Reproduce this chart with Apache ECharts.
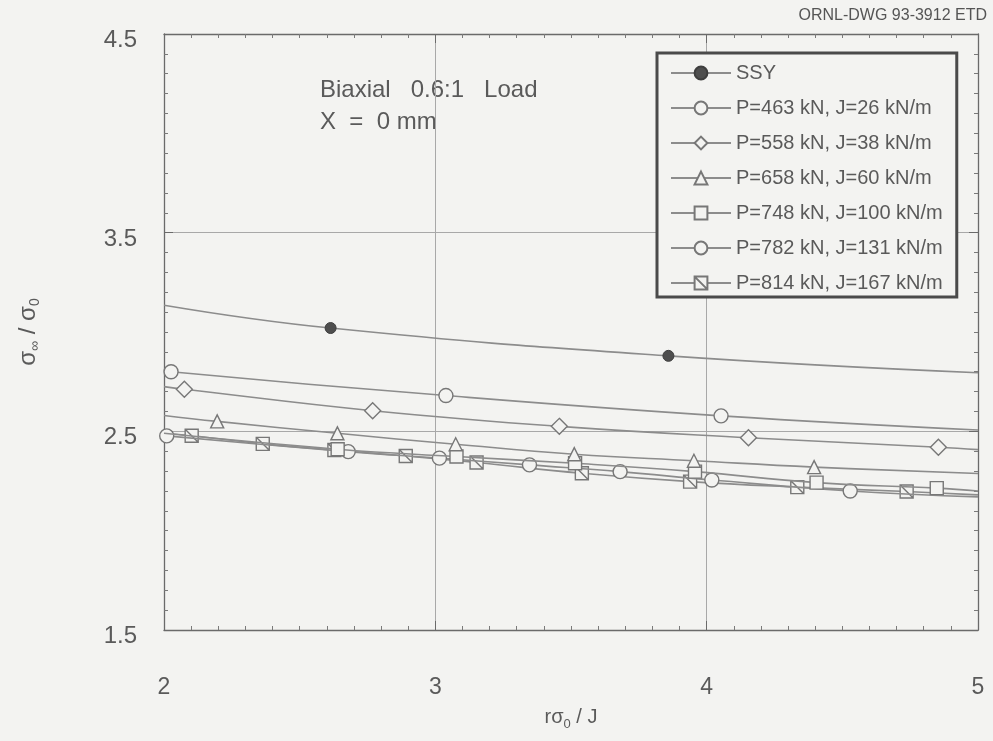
<!DOCTYPE html>
<html>
<head>
<meta charset="utf-8">
<title>Biaxial 0.6:1 Load</title>
<script src="https://cdn.jsdelivr.net/npm/echarts@6/dist/echarts.min.js"></script>
<style>
  html, body { margin: 0; padding: 0; background: #f3f3f1; }
  #chart { width: 993px; height: 741px; }
</style>
</head>
<body>
<div id="chart"></div>
<script>
// Normalised stress vs. normalised distance, biaxial 0.6:1 load at X = 0 mm
const seriesNames = [
  'SSY',
  'P=463 kN, J=26 kN/m',
  'P=558 kN, J=38 kN/m',
  'P=658 kN, J=60 kN/m',
  'P=748 kN, J=100 kN/m',
  'P=782 kN, J=131 kN/m',
  'P=814 kN, J=167 kN/m'
];

// Measured points [rσ0/J, σ∞/σ0]
const ssyPts  = [[2.614, 3.02], [3.859, 2.88]];
const p463Pts = [[2.026, 2.80], [3.039, 2.68], [4.053, 2.578]];
const p558Pts = [[2.075, 2.712], [2.769, 2.604], [3.457, 2.525], [4.154, 2.468], [4.854, 2.42]];
const p658Pts = [[2.196, 2.55], [2.639, 2.49], [3.075, 2.435], [3.512, 2.385], [3.953, 2.352], [4.396, 2.32]];
const p748Pts = [[2.64, 2.41], [3.078, 2.373], [3.515, 2.339], [3.957, 2.297], [4.405, 2.242], [4.848, 2.214]];
const p782Pts = [[2.01, 2.477], [2.679, 2.398], [3.015, 2.365], [3.347, 2.331], [3.681, 2.297], [4.019, 2.255], [4.529, 2.20]];
const p814Pts = [[2.102, 2.478], [2.364, 2.437], [2.628, 2.406], [2.891, 2.376], [3.152, 2.343], [3.54, 2.289], [3.939, 2.247], [4.334, 2.219], [4.737, 2.197]];

// Fitted curve values at the plot edges, rσ0/J = 2 and 5
const ssyEnds  = [3.135, 2.795];
const p463Ends = [2.81, 2.507];
const p558Ends = [2.725, 2.408];
const p658Ends = [2.58, 2.288];
const p748Ends = [2.49, 2.20];
const p782Ends = [2.48, 2.17];
const p814Ends = [2.49, 2.18];

// Axis ticks
const xTicks = [2, 3, 4, 5];
const yTicks = [1.5, 2.5, 3.5, 4.5];

const BG = '#f3f3f1';
const INK = '#5a5a5a';
const LINE = '#8c8c8c';
const FONT = '"Liberation Sans", Arial, Helvetica, sans-serif';

const slashedBox = 'path://M0,0 L10,0 L10,10 L0,10 Z M0,0 L10,10';

const allPts  = [ssyPts, p463Pts, p558Pts, p658Pts, p748Pts, p782Pts, p814Pts];
const allEnds = [ssyEnds, p463Ends, p558Ends, p658Ends, p748Ends, p782Ends, p814Ends];
const symbols = ['circle', 'circle', 'diamond', 'triangle', 'rect', 'circle', slashedBox];
const sizes   = [11, 14, 16, 13, 13, 14, 13];

function curveData(pts, ends) {
  const d = [{ value: [xTicks[0], ends[0]], symbol: 'none' }];
  pts.forEach(p => d.push({ value: p }));
  d.push({ value: [xTicks[xTicks.length - 1], ends[1]], symbol: 'none' });
  return d;
}

const series = seriesNames.map((name, i) => ({
  name: name,
  type: 'line',
  data: curveData(allPts[i], allEnds[i]),
  smooth: 0.45,
  symbol: symbols[i],
  symbolSize: sizes[i],
  showAllSymbol: true,
  lineStyle: { color: LINE, width: 1.6 },
  itemStyle: i === 0
    ? { color: '#4e4e4e', borderColor: '#3e3e3e', borderWidth: 1 }
    : { color: BG, borderColor: '#777', borderWidth: 1.4 },
  emphasis: { disabled: true },
  z: 3 + (seriesNames.length - i)
}));

const axisCommon = {
  type: 'value',
  interval: 1,
  axisLine: { show: true, onZero: false, lineStyle: { color: '#6a6a6a', width: 1.3 } },
  axisTick: { show: true, inside: true, length: 9, lineStyle: { color: '#6a6a6a' } },
  minorTick: { show: true, splitNumber: 10, length: 4, lineStyle: { color: '#7a7a7a' } },
  minorSplitLine: { show: false }
};

const chart = echarts.init(document.getElementById('chart'), null, { renderer: 'canvas' });
chart.setOption({
  animation: false,
  backgroundColor: BG,
  textStyle: { fontFamily: FONT },
  grid: { left: 164, right: 15, top: 34, bottom: 111, containLabel: false },
  xAxis: [
    Object.assign({}, axisCommon, {
      position: 'bottom',
      min: xTicks[0], max: xTicks[xTicks.length - 1],
      axisLabel: { color: INK, fontSize: 23, margin: 46, fontFamily: FONT },
      splitLine: { show: true, lineStyle: { color: '#a8a8a8', width: 1 } },
      name: '{a|r}{a|σ}{b|0}{a| / J}',
      nameLocation: 'middle',
      nameGap: 74,
      nameTextStyle: {
        color: INK,
        rich: {
          a: { fontSize: 20, color: INK, fontFamily: FONT },
          b: { fontSize: 13, color: INK, fontFamily: FONT, padding: [14, 0, 0, 0] }
        }
      }
    }),
    Object.assign({}, axisCommon, {
      position: 'top',
      min: xTicks[0], max: xTicks[xTicks.length - 1],
      axisLabel: { show: false },
      splitLine: { show: false }
    })
  ],
  yAxis: [
    Object.assign({}, axisCommon, {
      position: 'left',
      min: yTicks[0], max: yTicks[yTicks.length - 1],
      axisLabel: {
        color: INK, fontSize: 24, margin: 27, fontFamily: FONT,
        verticalAlign: 'top', lineHeight: 13,
        formatter: v => v.toFixed(1)
      },
      splitLine: { show: true, lineStyle: { color: '#a8a8a8', width: 1 } },
      name: '{a|σ}{b|∞}{a| / σ}{b|0}',
      nameLocation: 'middle',
      nameRotate: 90,
      nameGap: 122,
      nameTextStyle: {
        color: INK,
        rich: {
          a: { fontSize: 24, color: INK, fontFamily: FONT },
          b: { fontSize: 14, color: INK, fontFamily: FONT, padding: [14, 0, 0, 0] }
        }
      }
    }),
    Object.assign({}, axisCommon, {
      position: 'right',
      min: yTicks[0], max: yTicks[yTicks.length - 1],
      axisLabel: { show: false },
      splitLine: { show: false }
    })
  ],
  legend: {
    orient: 'vertical',
    left: 657,
    top: 53,
    padding: [10, 14, 4, 13],
    itemWidth: 60,
    itemHeight: 16,
    itemGap: 15,
    selectedMode: false,
    borderColor: '#4a4a4a',
    borderWidth: 3,
    backgroundColor: BG,
    textStyle: { color: INK, fontSize: 20, lineHeight: 20, fontFamily: FONT },
    data: seriesNames
  },
  graphic: [
    {
      type: 'text', left: 320, top: 78,
      style: { text: 'Biaxial   0.6:1   Load', fill: INK, fontSize: 24, fontFamily: FONT }
    },
    {
      type: 'text', left: 320, top: 110,
      style: { text: 'X  =  0 mm', fill: INK, fontSize: 24, fontFamily: FONT }
    },
    {
      type: 'text', right: 6, top: 8,
      style: { text: 'ORNL-DWG 93-3912 ETD', fill: '#555', fontSize: 16, fontFamily: FONT }
    }
  ],
  series: series
});
</script>
</body>
</html>
